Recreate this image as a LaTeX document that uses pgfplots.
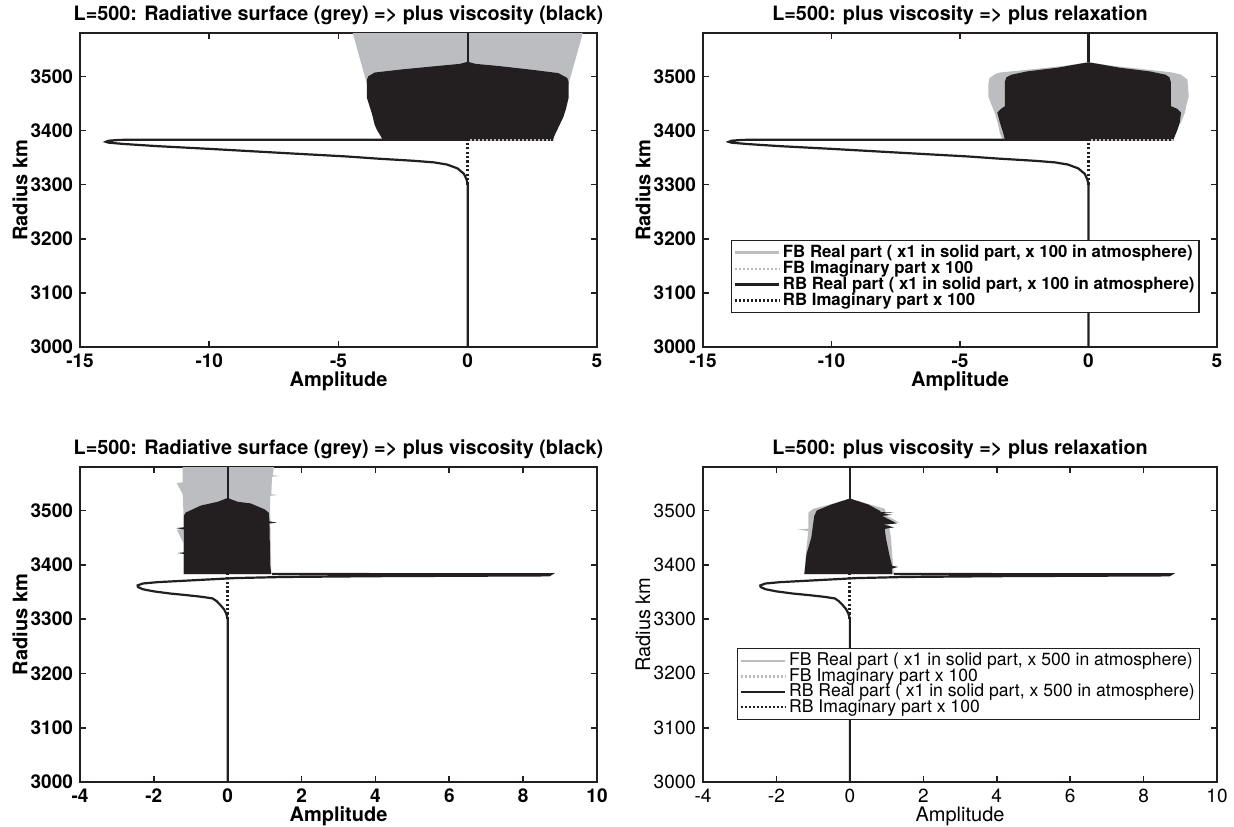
\documentclass[border=0pt]{standalone}
\usepackage{fontspec}
\setmainfont{TeX Gyre Heros}
\usepackage{pgfplots}
\pgfplotsset{compat=1.18}
\definecolor{ink}{RGB}{35,31,32}
\definecolor{lgrey}{RGB}{188,189,192}
\pgfplotsset{
  base/.style={
    scale only axis, anchor=south west,
    axis line style={ink, line width=1.1pt},
    every tick/.style={ink, line width=0.8pt},
    tick align=inside, major tick length=3pt,
    xtick pos=both, ytick pos=both,
    ymin=3000, ymax=3580, ytick={3000,3100,3200,3300,3400,3500},
    /pgf/number format/assume math mode=true,
    /pgf/number format/1000 sep={},
    every axis title/.style={at={(0.5,1)}, anchor=center, yshift=9pt, font=\bfseries\fontsize{9.9}{11}\selectfont},
    every axis x label/.style={at={(0.5,0)}, anchor=center, yshift=-17pt, inner sep=0pt},
    every axis y label/.style={at={(0,0.5)}, anchor=center, rotate=90, yshift=30pt, inner sep=0pt},
    xlabel={Amplitude}, ylabel={Radius km},
    legend cell align=left,
    legend image code/.code={\draw[#1] (0cm,0cm) -- (0.78cm,0cm);},
  },
  boldtxt/.style={
    tick label style={font=\bfseries\fontsize{9.5}{11}\selectfont},
    label style={font=\bfseries\fontsize{10}{12}\selectfont},
  },
  regtxt/.style={
    tick label style={font=\fontsize{9.5}{11}\selectfont},
    label style={font=\fontsize{10}{12}\selectfont},
  },
  top/.style={xmin=-15, xmax=5, xtick={-15,-10,-5,0,5}},
  bot/.style={xmin=-4, xmax=10, xtick={-4,-2,0,2,4,6,8,10}},
  cline/.style={ink, line width=1.1pt},
  dline/.style={ink, line width=1.4pt, dash pattern=on 1.1pt off 1.1pt},
}
\begin{document}
\begin{tikzpicture}
\useasboundingbox (0pt,0pt) rectangle (617pt,413pt);
% ---------------- Panel 1
\begin{axis}[base, boldtxt, top, at={(40pt,239.5pt)}, width=258.5pt, height=157pt,
  title={L=500: Radiative surface (grey) => plus viscosity (black)}]
\addplot[fill=lgrey, draw=none, forget plot] coordinates {
 (-3.3,3383) (-4.45,3580) (4.45,3580) (3.3,3383)} --cycle;
\addplot[fill=ink, draw=none, forget plot] coordinates {
 (-3.3,3383) (-3.35,3388) (-3.5,3400) (-3.6,3410) (-3.7,3430) (-3.8,3445) (-3.9,3460) (-3.9,3494)
 (-3.85,3500) (-3.6,3507) (-2.5,3513) (-1.2,3519) (-0.3,3523) (0,3527) (0.3,3523) (1.2,3519) (2.5,3512)
 (3.5,3506) (3.85,3497) (3.9,3490) (3.9,3460) (3.8,3440) (3.7,3425) (3.5,3405) (3.35,3390) (3.3,3383)} --cycle;
\addplot[cline, forget plot] coordinates {
 (0,3000) (0,3300) (-0.05,3310) (-0.15,3320) (-0.4,3330) (-0.8,3337) (-1.3,3341) (-2.1,3344) (-3.5,3348)
 (-4.7,3352) (-7,3358) (-10,3366) (-12,3371) (-13.3,3375) (-13.9,3377.5) (-14,3379) (-13.9,3381)
 (-13.5,3382.5) (-13,3383) (3.3,3383)};
\addplot[cline, forget plot] coordinates {(0,3526) (0,3580)};
\addplot[dline, forget plot] coordinates {(0,3300) (0,3383)};
\addplot[lgrey, line width=0.8pt, dash pattern=on 1pt off 1pt, forget plot] coordinates {(0.1,3382) (3.2,3382)};
\end{axis}
% ---------------- Panel 2
\begin{axis}[base, boldtxt, top, at={(351.5pt,239.5pt)}, width=257pt, height=157pt,
  title={L=500: plus viscosity => plus relaxation},
  legend style={at={(0.054,0.341)}, anchor=north west, draw=ink, line width=0.6pt,
    font=\bfseries\fontsize{8.4}{9}\selectfont, inner sep=1pt, row sep=-2.2pt,
    nodes={inner sep=1.2pt}}]
\addlegendimage{lgrey, line width=1.4pt}
\addlegendentry{FB Real part ( x1 in solid part, x 100 in atmosphere)}
\addlegendimage{lgrey, line width=1.1pt, dash pattern=on 1pt off 1pt}
\addlegendentry{FB Imaginary part x 100}
\addlegendimage{ink, line width=1.4pt}
\addlegendentry{RB Real part ( x1 in solid part, x 100 in atmosphere)}
\addlegendimage{ink, line width=1.1pt, dash pattern=on 1pt off 1pt}
\addlegendentry{RB Imaginary part x 100}
\addplot[fill=lgrey, draw=none, forget plot] coordinates {
 (-3.35,3383) (-3.45,3395) (-3.5,3407) (-3.6,3425) (-3.65,3433) (-3.8,3450) (-3.9,3463) (-3.9,3485)
 (-3.85,3497) (-3.6,3505) (-3.45,3507) (-2,3514) (-1,3519) (0,3526) (1,3519) (2,3514) (3.27,3507)
 (3.6,3503) (3.85,3494) (3.9,3463) (3.8,3445) (3.75,3433) (3.6,3415) (3.5,3407) (3.4,3395) (3.3,3383)} --cycle;
\addplot[fill=ink, draw=none, forget plot] coordinates {
 (-3.25,3383) (-3.35,3400) (-3.45,3415) (-3.55,3433) (-3.4,3440) (-3.25,3445) (-3.25,3490) (-3.2,3498)
 (-3.0,3503) (-2.4,3509) (-1.2,3516) (0,3526) (1.2,3516) (2.4,3509) (3.0,3503) (3.15,3498) (3.2,3490)
 (3.2,3445) (3.45,3440) (3.6,3433) (3.55,3415) (3.45,3400) (3.3,3383)} --cycle;
\addplot[cline, forget plot] coordinates {
 (0,3000) (0,3300) (-0.05,3310) (-0.15,3320) (-0.4,3330) (-0.8,3337) (-1.3,3341) (-2.1,3344) (-3.5,3348)
 (-4.7,3352) (-7,3358) (-10,3366) (-12,3371) (-13.3,3375) (-13.9,3377.5) (-14,3379) (-13.9,3381)
 (-13.5,3382.5) (-13,3383) (3.3,3383)};
\addplot[cline, forget plot] coordinates {(0,3526) (0,3580)};
\addplot[dline, forget plot] coordinates {(0,3300) (0,3383)};
\addplot[lgrey, line width=0.8pt, dash pattern=on 1pt off 1pt, forget plot] coordinates {(0.1,3382) (3.3,3382)};
\end{axis}
% ---------------- Panel 3
\begin{axis}[base, boldtxt, bot, at={(40pt,22pt)}, width=258.5pt, height=157.5pt,
  title={L=500: Radiative surface (grey) => plus viscosity (black)}]
\addplot[fill=lgrey, draw=none, forget plot] coordinates {
 (-1.2,3383) (-1.2,3440) (-1.38,3464.5) (-1.2,3466) (-1.2,3500) (-1.22,3530) (-1.38,3550.5) (-1.22,3552) (-1.22,3580)
 (1.25,3580) (1.22,3565) (1.4,3563.5) (1.2,3562) (1.18,3530) (1.36,3528.5) (1.15,3527) (1.15,3500) (1.18,3383)} --cycle;
\addplot[fill=ink, draw=none, forget plot] coordinates {
 (-1.19,3383) (-1.19,3420) (-1.36,3421.5) (-1.19,3423) (-1.19,3465) (-1.4,3467.5) (-1.19,3469) (-1.19,3490)
 (-1.14,3496) (-0.73,3509) (-0.27,3516) (0,3523) (0.27,3516) (0.62,3513) (1.0,3502) (1.11,3496)
 (1.13,3480) (1.33,3477.5) (1.13,3476) (1.15,3400) (1.18,3383)} --cycle;
\addplot[cline, forget plot] coordinates {
 (0,3000) (0,3300) (-0.04,3310) (-0.1,3318) (-0.2,3326) (-0.3,3333) (-0.41,3338) (-0.7,3341) (-1.1,3344)
 (-1.55,3347) (-2.0,3351) (-2.3,3355) (-2.43,3359) (-2.44,3362) (-2.3,3365.5) (-1.9,3368) (-1.2,3370.5)
 (-0.5,3373) (0.2,3375.5) (1.5,3377.5) (4,3379) (8.7,3380.5) (8.75,3382.5) (1.2,3383)};
\addplot[cline, forget plot] coordinates {(0,3522) (0,3580)};
\addplot[dline, forget plot] coordinates {(0,3300) (0,3383)};
\end{axis}
% ---------------- Panel 4
\begin{axis}[base, regtxt, bot, at={(351.5pt,22pt)}, width=257pt, height=157.5pt,
  title={L=500: plus viscosity => plus relaxation},
  legend style={at={(0.066,0.425)}, anchor=north west, draw=ink, line width=0.6pt,
    font=\fontsize{8.8}{9}\selectfont, inner sep=1pt, row sep=-2.6pt,
    nodes={inner sep=1.2pt}}]
\addlegendimage{lgrey, line width=1.4pt}
\addlegendentry{FB Real part ( x1 in solid part, x 500 in atmosphere)}
\addlegendimage{lgrey, line width=1.1pt, dash pattern=on 1pt off 1pt}
\addlegendentry{FB Imaginary part x 100}
\addlegendimage{ink, line width=1.4pt}
\addlegendentry{RB Real part ( x1 in solid part, x 500 in atmosphere)}
\addlegendimage{ink, line width=1.1pt, dash pattern=on 1pt off 1pt}
\addlegendentry{RB Imaginary part x 100}
\addplot[fill=lgrey, draw=none, forget plot] coordinates {
 (-1.24,3383) (-1.2,3420) (-1.15,3450) (-1.13,3462) (-1.42,3465) (-1.13,3466.5) (-1.13,3496) (-1.0,3503)
 (-0.5,3512) (0,3522) (0.5,3512) (0.95,3503) (1.0,3490) (1.35,3478) (1.05,3476) (1.12,3450) (1.15,3420) (1.2,3383)} --cycle;
\addplot[fill=ink, draw=none, forget plot] coordinates {
 (-1.24,3383) (-1.18,3420) (-1.05,3450) (-0.97,3490) (-0.9,3500) (-0.5,3511) (0,3522) (0.5,3511)
 (0.8,3500) (0.85,3497) (1.2,3496) (0.86,3494.5) (1.15,3492) (0.88,3490) (1.28,3476) (0.92,3474)
 (1.2,3469) (0.95,3466) (0.98,3450) (1.07,3420) (1.15,3398) (1.32,3396) (1.15,3393) (1.15,3383)} --cycle;
\addplot[cline, forget plot] coordinates {
 (0,3000) (0,3300) (-0.04,3310) (-0.1,3318) (-0.2,3326) (-0.3,3333) (-0.41,3338) (-0.7,3341) (-1.1,3344)
 (-1.55,3347) (-2.0,3351) (-2.3,3355) (-2.43,3359) (-2.44,3362) (-2.3,3365.5) (-1.9,3368) (-1.2,3370.5)
 (-0.5,3373) (0.2,3375.5) (1.5,3377.5) (4,3379) (8.7,3380.5) (8.75,3382.5) (1.2,3383)};
\addplot[cline, forget plot] coordinates {(0,3522) (0,3580)};
\addplot[dline, forget plot] coordinates {(0,3300) (0,3383)};
\end{axis}
\end{tikzpicture}
\end{document}
